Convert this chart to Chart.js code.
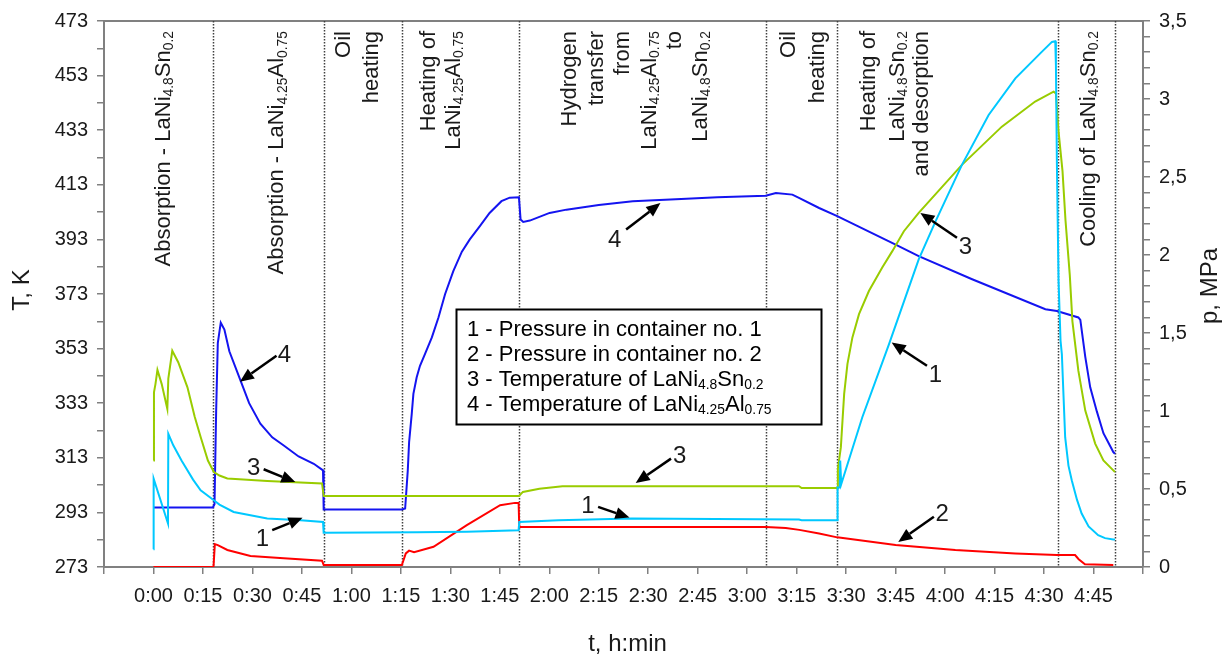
<!DOCTYPE html>
<html><head><meta charset="utf-8">
<script src="https://cdn.jsdelivr.net/npm/chart.js@4/dist/chart.umd.min.js"></script>
<style>html,body{margin:0;padding:0;background:#fff;}canvas{display:block;}</style>
</head><body>
<canvas id="c" width="1224" height="654"></canvas>
<script>
// ---------- DATA (time in minutes) ----------
// 1 - Pressure in container no. 1 (MPa)
const time1 = [0, 0.05, 4.4, 4.5, 6, 8.5, 12, 14.3, 18.3, 20, 24.3, 34.5, 44.6, 51.4, 51.6, 80, 95, 110.7, 110.9, 122.8, 145, 195.7, 196.5, 207.3, 207.4, 208.1, 208.2, 208.5, 214.9, 223.0, 232.0, 237.1, 245.1, 253.2, 261.3, 269.3, 272.4, 273.4, 273.6, 273.9, 274.4, 275, 275.4, 276.4, 277.4, 278.4, 280, 281.4, 283.5, 286.4, 288.5, 291, 291.5];
const pres1 = [0.113, 0.566, 0.279, 0.854, 0.78, 0.683, 0.56, 0.492, 0.428, 0.40, 0.353, 0.311, 0.300, 0.289, 0.219, 0.222, 0.226, 0.236, 0.289, 0.300, 0.311, 0.305, 0.300, 0.300, 0.51, 0.51, 0.683, 0.53, 0.960, 1.429, 1.972, 2.216, 2.578, 2.898, 3.132, 3.302, 3.366, 3.370, 3.217, 2.578, 1.833, 1.45, 1.365, 0.832, 0.65, 0.556, 0.43, 0.343, 0.26, 0.204, 0.185, 0.177, 0.177];
// 2 - Pressure in container no. 2 (MPa)
const time2 = [0, 18.2, 18.6, 19.5, 22.4, 29.4, 39.5, 51.1, 51.6, 75.3, 76.5, 77.5, 79, 84.9, 95, 105.1, 109.6, 110.7, 110.9, 185.7, 191.7, 195.8, 201.8, 207.3, 225, 243.1, 261.3, 273.9, 279.4, 280.5, 282.4, 291];
const pres2 = [0, 0, 0.147, 0.14, 0.109, 0.070, 0.056, 0.040, 0.013, 0.013, 0.087, 0.105, 0.095, 0.130, 0.268, 0.396, 0.411, 0.411, 0.257, 0.257, 0.250, 0.238, 0.215, 0.190, 0.141, 0.109, 0.087, 0.077, 0.077, 0.05, 0.017, 0.013];
// 3 - Temperature of LaNi4.8Sn0.2 (K)
const timeSn = [0, 0.15, 0.6, 1.2, 2.5, 4.2, 4.5, 5.7, 7.5, 10.3, 12.5, 14.3, 16.5, 18.3, 20, 22.4, 34.5, 51.1, 51.6, 110.8, 112, 117, 124, 195.7, 196.5, 207.3, 207.5, 208.4, 208.9, 209.4, 210.4, 211.9, 213.9, 216.9, 220.9, 224.0, 227.5, 232, 245.1, 257.2, 267.3, 272.9, 273.6, 274.4, 275.6, 276.5, 277.8, 278.6, 280.4, 282.5, 285.5, 288, 291, 291.5];
const tempSn = [312, 337, 340, 345.2, 340, 330.9, 342, 352.2, 348, 338.8, 328, 320.6, 312, 307.8, 306.5, 305.4, 304.5, 303.6, 299.0, 299.0, 300.5, 301.7, 302.6, 302.6, 301.9, 301.9, 309, 316.9, 326.7, 336.4, 347.4, 357.1, 365.6, 374.1, 382.6, 388.7, 396.0, 402.7, 420.3, 434.3, 443.5, 447.1, 446.5, 432.5, 418, 400, 380, 363, 344.9, 330.3, 318.2, 312, 308.4, 307.8];
// 4 - Temperature of LaNi4.25Al0.75 (K)
const timeAl = [0, 18.0, 18.5, 19.0, 19.5, 20.4, 21.5, 23, 26.4, 29, 32.4, 36, 39.5, 44, 48.6, 51.4, 51.6, 75.3, 76.3, 77.1, 77.5, 78.3, 78.8, 79.8, 80.8, 82.3, 84.4, 86.4, 88.4, 90.9, 93.5, 95.9, 98.9, 101.9, 105.5, 108, 110.8, 111.3, 112.1, 114.1, 120.1, 125.2, 135, 145.3, 160, 171, 185.6, 188.7, 193.7, 195.7, 201.8, 207.3, 225, 232, 248.2, 270.4, 273.9, 280.4, 281, 282.5, 284, 286, 288, 291, 291.5];
const tempAl = [294.8, 294.8, 296, 330, 355, 362.5, 360, 352, 341.3, 333, 325.5, 320.5, 317.5, 313.5, 310.8, 308.4, 294.1, 294.1, 294.4, 308.4, 318.7, 329.1, 336.4, 342.5, 346.7, 351, 357.1, 364.4, 372.9, 381.4, 388.5, 393.0, 397.8, 402.7, 407, 408.3, 408.4, 400.3, 399.4, 399.9, 402.7, 403.9, 405.6, 407, 407.8, 408.4, 409, 410, 409.4, 408.2, 404.5, 401.5, 391.1, 386.9, 378.4, 367.4, 366.8, 364.4, 363.5, 350, 338.8, 330, 322, 315.1, 314.5];

// tick labels
const xTickLabels = ['0:00','0:15','0:30','0:45','1:00','1:15','1:30','1:45','2:00','2:15','2:30','2:45','3:00','3:15','3:30','3:45','4:00','4:15','4:30','4:45'];
const tTickLabels = ['273','293','313','333','353','373','393','413','433','453','473'];
const pTickLabels = ['0','0,5','1','1,5','2','2,5','3','3,5'];

// stage boundaries (minutes)
const stageBounds = [18.1, 51.6, 75.3, 110.8, 185.7, 207.3, 274.1, 291.5];
// stage label lines: [minute position, text]
const stageLines = [
  [2.7, 'Absorption - LaNi_{4.8}Sn_{0.2}'],
  [37.0, 'Absorption - LaNi_{4.25}Al_{0.75}'],
  [57.2, 'Oil'], [65.7, 'heating'],
  [82.9, 'Heating of'], [90.4, 'LaNi_{4.25}Al_{0.75}'],
  [125.7, 'Hydrogen'], [133.8, 'transfer'], [141.8, 'from'], [149.9, 'LaNi_{4.25}Al_{0.75}'], [157.4, 'to'], [165.5, 'LaNi_{4.8}Sn_{0.2}'],
  [192.2, 'Oil'], [200.8, 'heating'],
  [216.4, 'Heating of'], [225.0, 'LaNi_{4.8}Sn_{0.2}'], [232.5, 'and desorption'],
  [282.9, 'Cooling of LaNi_{4.8}Sn_{0.2}']
];
const legendLines = ['1 - Pressure in container no. 1', '2 - Pressure in container no. 2', '3 - Temperature of LaNi_{4.8}Sn_{0.2}', '4 - Temperature of LaNi_{4.25}Al_{0.75}'];
// callouts in (minute, K) coordinates
const callouts = [
  {n:'4', at:[39.7,351.0], from:[37.3,350.4], to:[26.2,340.9]},
  {n:'3', at:[30.4,309.6], from:[33.4,308.8], to:[43.0,304.1]},
  {n:'1', at:[33.0,283.5], from:[36.0,286.5], to:[45.2,291.0]},
  {n:'3', at:[159.5,313.9], from:[156.9,312.7], to:[146.2,303.8]},
  {n:'1', at:[131.7,295.6], from:[134.8,295.0], to:[144.3,291.1]},
  {n:'4', at:[139.8,393.0], from:[143.3,396.6], to:[153.7,406.3]},
  {n:'3', at:[246.2,390.5], from:[243.6,393.6], to:[232.5,402.7]},
  {n:'1', at:[237.1,343.7], from:[234.5,346.7], to:[223.8,355.2]},
  {n:'2', at:[239.1,292.8], from:[236.6,291.4], to:[225.8,282.2]}
];
const legendBox = {m0:91.7, m1:202.4, t0:367.5, t1:325.2};

// ---------- helpers ----------
const FONT = '"Liberation Sans", Arial, Helvetica, sans-serif';
const TXT = '#1a1a1a';
const AXC = '#808080';
const zip = (xs, ys) => xs.map((x, i) => ({x: x, y: ys[i]}));

function parseRich(s) {
  const segs = []; const re = /_\{([^}]*)\}/g; let last = 0, m;
  while ((m = re.exec(s))) {
    if (m.index > last) segs.push({t: s.slice(last, m.index), sub: false});
    segs.push({t: m[1], sub: true}); last = re.lastIndex;
  }
  if (last < s.length) segs.push({t: s.slice(last), sub: false});
  return segs;
}
function drawRich(ctx, s, x, yMid, size, align) {
  const segs = parseRich(s); const subSize = size * 0.63;
  let w = 0;
  for (const g of segs) { ctx.font = (g.sub ? subSize : size) + 'px ' + FONT; w += ctx.measureText(g.t).width; }
  let cx = align === 'right' ? x - w : align === 'center' ? x - w / 2 : x;
  const base = yMid + size * 0.36;
  ctx.textBaseline = 'alphabetic'; ctx.textAlign = 'left';
  for (const g of segs) {
    ctx.font = (g.sub ? subSize : size) + 'px ' + FONT;
    ctx.fillText(g.t, cx, g.sub ? base + size * 0.14 : base);
    cx += ctx.measureText(g.t).width;
  }
}

const decorPlugin = {
  id: 'decor',
  beforeDatasetsDraw(chart) {
    const {ctx, chartArea: a, scales} = chart;
    ctx.save();
    // top frame line
    ctx.strokeStyle = AXC; ctx.lineWidth = 2;
    ctx.beginPath(); ctx.moveTo(a.left, a.top); ctx.lineTo(a.right, a.top); ctx.stroke();
    // stage separators
    ctx.strokeStyle = '#404040'; ctx.lineWidth = 1.5; ctx.setLineDash([1.5, 1.5]);
    for (const b of stageBounds) {
      const x = Math.round(scales.x.getPixelForValue(b)) + 0.5;
      ctx.beginPath(); ctx.moveTo(x, a.top); ctx.lineTo(x, a.bottom); ctx.stroke();
    }
    ctx.restore();
  },
  afterDatasetsDraw(chart) {
    const {ctx, chartArea: a, scales} = chart;
    const X = scales.x, Y = scales.y;
    ctx.save();
    ctx.fillStyle = TXT;
    // stage labels (rotated)
    for (const [m, t] of stageLines) {
      ctx.save();
      ctx.translate(X.getPixelForValue(m), a.top + 10);
      ctx.rotate(-Math.PI / 2);
      drawRich(ctx, t, 0, 0, 22, 'right');
      ctx.restore();
    }
    // callouts
    ctx.strokeStyle = '#000'; ctx.fillStyle = '#000'; ctx.lineWidth = 2.5;
    for (const c of callouts) {
      const x1 = X.getPixelForValue(c.from[0]), y1 = Y.getPixelForValue(c.from[1]);
      const x2 = X.getPixelForValue(c.to[0]), y2 = Y.getPixelForValue(c.to[1]);
      const ang = Math.atan2(y2 - y1, x2 - x1); const L = 14, W = 6;
      const bx = x2 - L * Math.cos(ang), by = y2 - L * Math.sin(ang);
      ctx.beginPath(); ctx.moveTo(x1, y1); ctx.lineTo(bx, by); ctx.stroke();
      ctx.beginPath(); ctx.moveTo(x2, y2);
      ctx.lineTo(bx + W * Math.sin(ang), by - W * Math.cos(ang));
      ctx.lineTo(bx - W * Math.sin(ang), by + W * Math.cos(ang));
      ctx.closePath(); ctx.fill();
      ctx.font = '24px ' + FONT; ctx.textAlign = 'center'; ctx.textBaseline = 'middle';
      ctx.fillStyle = TXT;
      ctx.fillText(c.n, X.getPixelForValue(c.at[0]), Y.getPixelForValue(c.at[1]) + 1);
      ctx.fillStyle = '#000';
    }
    // legend box
    const lx0 = X.getPixelForValue(legendBox.m0), lx1 = X.getPixelForValue(legendBox.m1);
    const ly0 = Y.getPixelForValue(legendBox.t0), ly1 = Y.getPixelForValue(legendBox.t1);
    ctx.fillStyle = '#fff'; ctx.fillRect(lx0, ly0, lx1 - lx0, ly1 - ly0);
    ctx.strokeStyle = '#000'; ctx.lineWidth = 2;
    ctx.strokeRect(Math.round(lx0) + 0.5, Math.round(ly0) + 0.5, Math.round(lx1 - lx0), Math.round(ly1 - ly0));
    ctx.fillStyle = '#000';
    legendLines.forEach((t, i) => drawRich(ctx, t, lx0 + 11, ly0 + 19 + i * 25, 22, 'left'));
    // axis titles
    ctx.fillStyle = TXT;
    ctx.save(); ctx.translate(20, (a.top + a.bottom) / 2 - 4); ctx.rotate(-Math.PI / 2);
    drawRich(ctx, 'T, K', 0, 0, 24, 'center'); ctx.restore();
    ctx.save(); ctx.translate(1208, (a.top + a.bottom) / 2 - 8); ctx.rotate(-Math.PI / 2);
    drawRich(ctx, 'p, MPa', 0, 0, 24, 'center'); ctx.restore();
    drawRich(ctx, 't, h:min', (a.left + a.right) / 2 + 4, 642, 24, 'center');
    ctx.restore();
  }
};

const tickFont = {family: FONT, size: 20};
new Chart(document.getElementById('c'), {
  type: 'line',
  data: {
    datasets: [
      {label: '1', data: zip(time1, pres1), yAxisID: 'y2', borderColor: '#00C8FF'},
      {label: '2', data: zip(time2, pres2), yAxisID: 'y2', borderColor: '#FF0000'},
      {label: '3', data: zip(timeSn, tempSn), yAxisID: 'y', borderColor: '#99CC00'},
      {label: '4', data: zip(timeAl, tempAl), yAxisID: 'y', borderColor: '#1414F0'}
    ]
  },
  options: {
    responsive: false, animation: false, devicePixelRatio: 1,
    layout: {padding: {top: 19, left: 0, right: 0, bottom: 0}},
    plugins: {legend: {display: false}, tooltip: {enabled: false}},
    elements: {point: {radius: 0}, line: {borderWidth: 2, tension: 0}},
    scales: {
      x: {
        type: 'linear', position: 'bottom', min: -15, max: 300,
        ticks: {stepSize: 15, autoSkip: false, maxRotation: 0, padding: 10, color: TXT, font: tickFont,
          callback: (v) => { const i = Math.round(v / 15); return (Math.abs(v - i * 15) < 1e-6 && i >= 0 && i < xTickLabels.length) ? xTickLabels[i] : ''; }},
        grid: {drawOnChartArea: false, drawTicks: true, tickLength: 7, color: AXC, lineWidth: 1.5},
        border: {display: true, color: AXC, width: 2},
        afterFit: (s) => { s.height = 87; }
      },
      y: {
        type: 'linear', position: 'left', min: 273, max: 473,
        ticks: {stepSize: 10, autoSkip: false, padding: 9, color: TXT, font: tickFont,
          callback: (v) => { const i = Math.round((v - 273) / 20); return (Math.abs(v - 273 - i * 20) < 1e-6 && i >= 0 && i < tTickLabels.length) ? tTickLabels[i] : ''; }},
        grid: {drawOnChartArea: false, drawTicks: true, tickLength: 7, color: AXC, lineWidth: 1.5},
        border: {display: true, color: AXC, width: 2},
        afterFit: (s) => { s.width = 104; }
      },
      y2: {
        type: 'linear', position: 'right', min: 0, max: 3.5,
        ticks: {stepSize: 0.1, autoSkip: false, padding: 9, color: TXT, font: tickFont,
          callback: (v) => { const i = Math.round(v / 0.5); return (Math.abs(v - i * 0.5) < 1e-6 && i >= 0 && i < pTickLabels.length) ? pTickLabels[i] : ''; }},
        grid: {drawOnChartArea: false, drawTicks: true, tickLength: 7, color: AXC, lineWidth: 1.5},
        border: {display: true, color: AXC, width: 2},
        afterFit: (s) => { s.width = 81; }
      }
    }
  },
  plugins: [decorPlugin]
});
</script>
</body></html>
